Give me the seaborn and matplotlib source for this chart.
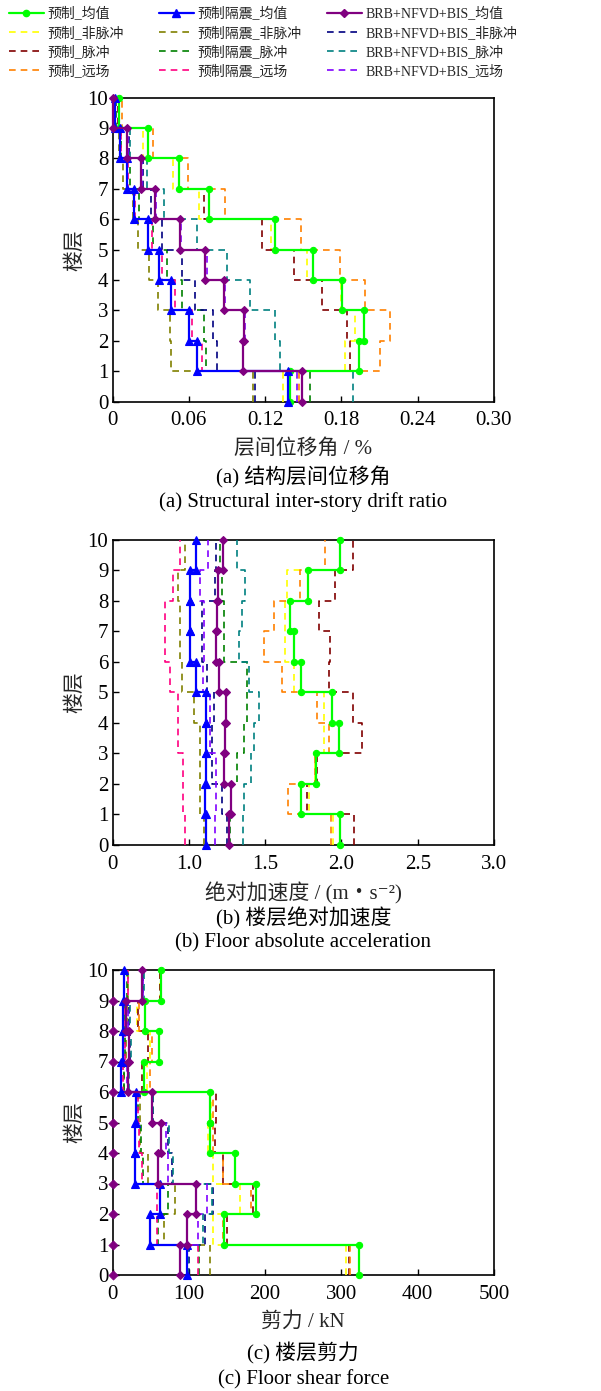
import matplotlib
matplotlib.use("Agg")
import matplotlib.pyplot as plt
from matplotlib.lines import Line2D
import pandas as pd
import seaborn as sns

sns.set_theme(style="white")
plt.rcParams["font.family"] = ["Liberation Serif", "Noto Sans CJK SC", "DejaVu Sans"]
plt.rcParams["axes.unicode_minus"] = False

# ---------------- data ----------------
floors = [0, 1, 2, 3, 4, 5, 6, 7, 8, 9, 10]
floor_ticks = [0, 1, 2, 3, 4, 5, 6, 7, 8, 9, 10]

series_labels = [
    "预制_均值", "预制_非脉冲", "预制_脉冲", "预制_远场",
    "预制隔震_均值", "预制隔震_非脉冲", "预制隔震_脉冲", "预制隔震_远场",
    "BRB+NFVD+BIS_均值", "BRB+NFVD+BIS_非脉冲", "BRB+NFVD+BIS_脉冲", "BRB+NFVD+BIS_远场",
]

# (a) inter-story drift ratio, %, stories 1..10
drift_pre_mean = [0.1396, 0.1936, 0.1978, 0.1805, 0.1574, 0.1275, 0.0756, 0.0526, 0.0280, 0.0054]
drift_pre_nonpulse = [0.1338, 0.1828, 0.1906, 0.1797, 0.1527, 0.1250, 0.0683, 0.0473, 0.0237, 0.0050]
drift_pre_pulse = [0.1380, 0.1868, 0.1842, 0.1650, 0.1427, 0.1178, 0.0720, 0.0526, 0.0280, 0.0040]
drift_pre_far = [0.1469, 0.2103, 0.2180, 0.1985, 0.1790, 0.1480, 0.0885, 0.0597, 0.0320, 0.0072]
drift_iso_mean = [0.1383, 0.0662, 0.0599, 0.0460, 0.0366, 0.0277, 0.0169, 0.0111, 0.0059, 0.0020]
drift_iso_nonpulse = [0.1102, 0.0458, 0.0452, 0.0360, 0.0290, 0.0203, 0.0164, 0.0080, 0.0050, 0.0020]
drift_iso_pulse = [0.1553, 0.0735, 0.0720, 0.0544, 0.0426, 0.0320, 0.0211, 0.0138, 0.0070, 0.0025]
drift_iso_far = [0.1488, 0.0701, 0.0623, 0.0490, 0.0387, 0.0308, 0.0180, 0.0120, 0.0065, 0.0020]
drift_brb_mean = [0.1488, 0.1024, 0.1037, 0.0877, 0.0730, 0.0531, 0.0334, 0.0222, 0.0111, 0.0007]
drift_brb_nonpulse = [0.1120, 0.0819, 0.0793, 0.0649, 0.0544, 0.0387, 0.0300, 0.0240, 0.0130, 0.0010]
drift_brb_pulse = [0.1894, 0.1317, 0.1278, 0.1081, 0.0898, 0.0662, 0.0405, 0.0274, 0.0140, 0.0015]
drift_brb_far = [0.1448, 0.1029, 0.1042, 0.0885, 0.0740, 0.0540, 0.0340, 0.0230, 0.0125, 0.0010]

# (b) floor absolute acceleration, m/s^2
acc_pre_mean = [1.994, 1.736, 1.835, 1.986, 1.938, 1.736, 1.687, 1.665, 1.781, 1.988]
acc_pre_nonpulse = [1.947, 1.790, 1.829, 1.883, 1.883, 1.687, 1.632, 1.632, 1.643, 1.992]
acc_pre_pulse = [2.080, 1.774, 1.839, 2.138, 2.075, 1.916, 1.927, 1.855, 1.959, 2.075]
acc_pre_far = [1.931, 1.647, 1.829, 1.916, 1.840, 1.611, 1.490, 1.556, 1.730, 1.894]
acc_iso_mean = [1.115, 1.104, 1.115, 1.115, 1.115, 1.048, 1.006, 1.006, 1.006, 1.048]
acc_iso_nonpulse = [1.098, 1.076, 1.076, 1.076, 1.032, 0.956, 0.945, 0.945, 0.928, 0.978]
acc_iso_pulse = [1.272, 1.277, 1.316, 1.360, 1.380, 1.381, 1.233, 1.233, 1.218, 1.207]
acc_iso_far = [0.978, 0.962, 0.962, 0.928, 0.928, 0.880, 0.847, 0.847, 0.897, 0.941]
acc_brb_mean = [1.261, 1.279, 1.233, 1.240, 1.246, 1.196, 1.178, 1.183, 1.189, 1.222]
acc_brb_nonpulse = [1.250, 1.218, 1.152, 1.152, 1.163, 1.120, 1.087, 1.087, 1.174, 1.180]
acc_brb_pulse = [1.355, 1.360, 1.408, 1.425, 1.458, 1.392, 1.327, 1.349, 1.371, 1.316]
acc_brb_far = [1.174, 1.180, 1.180, 1.141, 1.141, 1.093, 1.098, 1.098, 1.076, 1.124]

# (c) floor shear force, kN
shear_pre_mean = [323.0, 145.9, 187.8, 161.2, 127.6, 127.6, 41.7, 60.9, 42.5, 63.5]
shear_pre_nonpulse = [306.0, 132.0, 166.9, 132.0, 125.4, 129.0, 44.7, 49.1, 31.6, 62.0]
shear_pre_pulse = [310.0, 149.5, 183.5, 145.0, 134.0, 135.0, 38.2, 46.9, 33.8, 62.5]
shear_pre_far = [311.0, 145.0, 182.0, 145.0, 132.0, 132.0, 49.1, 51.3, 35.1, 63.5]
shear_iso_mean = [98.0, 49.1, 62.2, 29.5, 29.5, 30.3, 10.7, 14.2, 13.3, 15.5]
shear_iso_nonpulse = [127.6, 67.4, 81.8, 47.0, 36.0, 36.0, 15.0, 17.7, 18.5, 20.7]
shear_iso_pulse = [113.7, 60.0, 73.0, 39.5, 36.9, 33.8, 15.0, 16.4, 16.4, 18.5]
shear_iso_far = [112.3, 58.7, 58.7, 38.2, 35.1, 33.8, 14.2, 16.4, 15.0, 20.7]
shear_brb_mean = [88.4, 98.0, 109.3, 59.1, 63.5, 51.3, 19.9, 22.0, 17.7, 38.2]
shear_brb_nonpulse = [100.5, 121.0, 132.0, 77.4, 72.2, 52.6, 20.7, 22.9, 22.0, 40.4]
shear_brb_pulse = [99.3, 118.0, 129.8, 78.8, 74.4, 53.4, 22.0, 23.8, 22.9, 41.2]
shear_brb_far = [98.0, 112.3, 123.3, 73.3, 70.0, 51.3, 19.4, 22.0, 20.7, 39.5]
shear_brb_base = [0, 0, 0, 0, 0, 0, 0, 0, 0, 0]   # BRB markers drawn at x = 0, floors 0..9

drift_ticks = [0, 0.06, 0.12, 0.18, 0.24, 0.30]
drift_ticklabels = ["0", "0.06", "0.12", "0.18", "0.24", "0.30"]
acc_ticks = [0.5, 1.0, 1.5, 2.0, 2.5, 3.0]
acc_ticklabels = ["0", "1.0", "1.5", "2.0", "2.5", "3.0"]
shear_ticks = [0, 100, 200, 300, 400, 500]
shear_ticklabels = ["0", "100", "200", "300", "400", "500"]

# ---------------- styles ----------------
colors = ["#00FF00", "#FFFF00", "#800000", "#FF8000",
          "#0000FF", "#808000", "#008000", "#FF0080",
          "#800080", "#000080", "#008080", "#8000FF"]
markers = {0: "o", 4: "^", 8: "D"}
msizes = {0: 4.5, 4: 5.5, 8: 4.2}
DASH = (0, (4, 3))


def step_frame(values):
    xs, ys = [], []
    for i, v in enumerate(values):
        xs += [v, v]
        ys += [floors[i], floors[i + 1]]
    return pd.DataFrame({"x": xs, "y": ys})


def draw_panel(ax, series, xlim, ticks, ticklabels, xlabel):
    # dashed records first, means on top
    order = [1, 2, 3, 5, 6, 7, 9, 10, 11, 0, 4, 8]
    for k in order:
        df = step_frame(series[k])
        if k in markers:
            sns.lineplot(data=df, x="x", y="y", sort=False, estimator=None, ax=ax,
                         color=colors[k], lw=1.6, marker=markers[k], ms=msizes[k],
                         mec=colors[k], mfc=colors[k], mew=0.8, clip_on=False, zorder=5)
        else:
            sns.lineplot(data=df, x="x", y="y", sort=False, estimator=None, ax=ax,
                         color=colors[k], lw=1.2, linestyle=DASH, clip_on=False, zorder=3)
    ax.set_xlim(*xlim)
    ax.set_ylim(0, 10)
    ax.set_xticks(ticks)
    ax.set_xticklabels(ticklabels)
    ax.set_yticks(floor_ticks)
    ax.set_yticklabels([str(f) for f in floor_ticks])
    ax.tick_params(axis="both", direction="in", length=4, width=1.0, labelsize=15,
                   colors="black", top=False, right=False, bottom=True, left=True)
    ax.tick_params(axis="x", pad=7)
    ax.tick_params(axis="y", pad=3)
    for sp in ax.spines.values():
        sp.set_color("black")
        sp.set_linewidth(1.2)
    ax.set_xlabel(xlabel, fontsize=15, labelpad=6)
    ax.set_ylabel("楼层", fontsize=15, labelpad=2)


W, H = 601, 1391
fig = plt.figure(figsize=(W / 100, H / 100), dpi=100)

left = 112.5 / W
width = 381.5 / W


def axes_at(top_px, bottom_px):
    return fig.add_axes([left, 1 - bottom_px / H, width, (bottom_px - top_px) / H])


ax_a = axes_at(97.7, 401.7)
ax_b = axes_at(540.0, 845.0)
ax_c = axes_at(970.0, 1275.0)

drift = [drift_pre_mean, drift_pre_nonpulse, drift_pre_pulse, drift_pre_far,
         drift_iso_mean, drift_iso_nonpulse, drift_iso_pulse, drift_iso_far,
         drift_brb_mean, drift_brb_nonpulse, drift_brb_pulse, drift_brb_far]
acc = [acc_pre_mean, acc_pre_nonpulse, acc_pre_pulse, acc_pre_far,
       acc_iso_mean, acc_iso_nonpulse, acc_iso_pulse, acc_iso_far,
       acc_brb_mean, acc_brb_nonpulse, acc_brb_pulse, acc_brb_far]
shear = [shear_pre_mean, shear_pre_nonpulse, shear_pre_pulse, shear_pre_far,
         shear_iso_mean, shear_iso_nonpulse, shear_iso_pulse, shear_iso_far,
         shear_brb_mean, shear_brb_nonpulse, shear_brb_pulse, shear_brb_far]

draw_panel(ax_a, drift, (0, 0.30), drift_ticks, drift_ticklabels, "层间位移角 / %")
draw_panel(ax_b, acc, (0.5, 3.0), acc_ticks, acc_ticklabels, "绝对加速度 / (m・s⁻²)")
draw_panel(ax_c, shear, (0, 500), shear_ticks, shear_ticklabels, "剪力 / kN")

# BRB markers at the base line of panel (c)
sns.scatterplot(x=shear_brb_base, y=floors[:10], ax=ax_c, color=colors[8], marker="D",
                s=22, edgecolor=colors[8], linewidth=0.5, clip_on=False, zorder=6, legend=False)

# captions
cx = (112.5 + 381.5 / 2) / W
captions = [("(a) 结构层间位移角", 477), ("(a) Structural inter-story drift ratio", 502),
            ("(b) 楼层绝对加速度", 918), ("(b) Floor absolute acceleration", 943),
            ("(c) 楼层剪力", 1353), ("(c) Floor shear force", 1380)]
for txt, ypx in captions:
    fig.text(cx, 1 - ypx / H, txt, ha="center", va="center", fontsize=15, color="black")


# legend: three columns
def handle(k):
    if k in markers:
        return Line2D([], [], color=colors[k], lw=1.6, marker=markers[k], ms=msizes[k],
                      mec=colors[k], mfc=colors[k])
    return Line2D([], [], color=colors[k], lw=1.2, linestyle=DASH)


col_x = [9, 159, 327]
for c in range(3):
    idx = [4 * c + r for r in range(4)]
    fig.legend([handle(k) for k in idx], [series_labels[k] for k in idx],
               loc="upper left", bbox_to_anchor=(col_x[c] / W, 1 - 7 / H),
               frameon=False, fontsize=10, handlelength=2.5, handletextpad=0.3,
               labelspacing=0.36, borderpad=0, borderaxespad=0, numpoints=1)

fig.savefig("out.png", dpi=100)
